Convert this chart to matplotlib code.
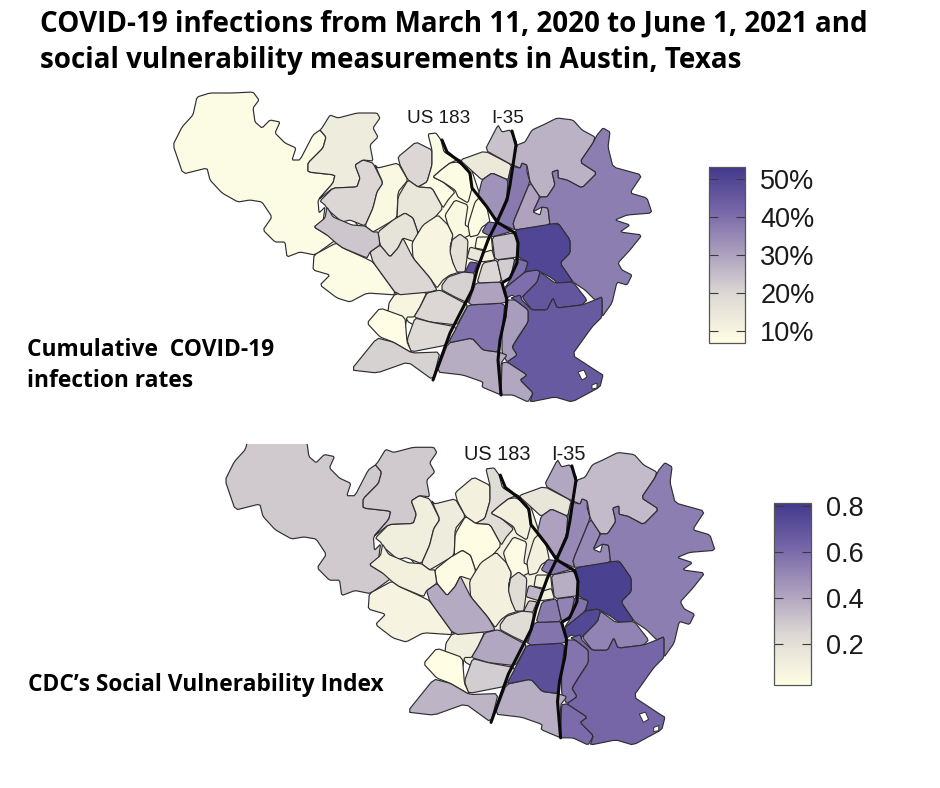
import matplotlib
matplotlib.use('Agg')
import matplotlib.pyplot as plt
from matplotlib.cm import ScalarMappable
from matplotlib.colors import LinearSegmentedColormap, Normalize
from matplotlib.patches import Polygon

# ZIP code outlines, in map units
zip_outlines = [
    # filler under the pale middle
    [(335,195),(440,150),(470,165),(490,225),(498,300),(440,340),(405,320),(385,262)],
    [(197,97),(210,93),(232,93),(253,92),(259,100),(253,108),(255,122),(262,128),(270,120),(280,122),(275,133),(285,143),(296,148),(292,160),(300,160),(313,135),(320,130),(326,137),(323,148),(308,163),(308,172),(335,175),(333,183),(318,200),(319,213),(325,207),(323,222),(314,227),(327,235),(337,239),(315,255),(300,252),(287,257),(285,242),(275,242),(263,230),(272,217),(262,202),(250,200),(238,202),(222,193),(210,180),(207,168),(183,174),(173,145),(182,127),(193,115)],
    [(322,128),(330,115),(338,118),(357,113),(377,113),(380,118),(373,128),(378,137),(370,145),(373,161),(363,160),(355,165),(360,178),(357,187),(333,188),(318,200),(333,183),(335,175),(308,172),(308,163),(323,148),(326,137),(320,130)],
    [(320,201),(333,188),(357,187),(360,178),(355,165),(363,160),(373,163),(383,183),(377,192),(373,208),(365,226),(350,220),(342,222),(328,210),(325,205)],
    [(375,165),(378,168),(398,163),(408,180),(398,192),(397,218),(380,228),(373,232),(365,226),(373,208),(377,192),(383,183)],
    [(398,157),(416,142),(432,150),(432,165),(427,182),(418,187),(408,180),(400,165)],
    [(428,134),(436,133),(441,140),(444,152),(457,160),(450,163),(441,170),(433,177),(443,182),(455,192),(448,200),(443,208),(432,188),(418,187),(427,182),(432,165),(432,150)],
    [(433,177),(441,170),(450,163),(457,162),(468,168),(472,188),(468,203),(458,197),(455,190),(443,182)],
    [(398,197),(408,180),(418,187),(432,188),(443,208),(430,223),(418,233),(413,218),(405,213),(397,218)],
    [(378,232),(393,220),(405,213),(413,218),(418,233),(415,242),(403,238),(398,248),(390,257),(380,245)],
    [(412,243),(423,225),(438,215),(448,225),(453,235),(450,248),(453,263),(460,272),(450,275),(443,280),(437,288),(430,278),(413,258)],
    [(445,215),(455,200),(468,205),(465,225),(470,228),(470,235),(460,240),(450,248),(453,235),(448,225)],
    [(450,252),(452,240),(460,234),(468,240),(467,258),(465,272),(457,272),(453,263)],
    [(468,225),(475,202),(480,197),(487,208),(490,222),(482,227),(478,235),(470,237)],
    [(460,160),(485,151),(512,165),(508,180),(492,173),(482,180),(471,170)],
    [(485,150),(498,125),(502,132),(510,130),(517,143),(513,163),(512,165)],
    [(478,197),(482,180),(492,173),(508,180),(507,197),(497,220),(487,208)],
    [(511,166),(520,168),(522,163),(527,165),(527,172),(530,182),(513,223),(515,230),(497,222),(507,197),(508,180)],
    [(482,232),(488,222),(497,223),(513,231),(492,237)],
    [(530,182),(540,197),(533,212),(540,215),(542,207),(548,208),(550,225),(515,230),(513,223)],
    [(517,145),(525,142),(532,130),(543,125),(557,118),(573,120),(582,130),(595,137),(593,143),(580,162),(597,173),(582,188),(567,180),(558,178),(558,170),(552,172),(555,185),(547,197),(540,197),(530,182),(527,165),(522,163),(520,168),(513,165)],
    [(593,143),(597,135),(603,128),(610,132),(608,147),(613,167),(642,175),(630,193),(647,198),(652,213),(627,215),(615,220),(630,225),(620,232),(642,235),(630,250),(618,263),(622,270),(632,275),(627,285),(617,282),(612,303),(602,317),(602,297),(595,300),(585,290),(573,282),(560,263),(570,253),(570,240),(558,223),(550,225),(548,208),(542,207),(533,212),(540,197),(547,197),(555,185),(552,172),(558,170),(558,178),(567,180),(582,188),(597,173),(580,162)],
    [(515,230),(558,223),(570,240),(570,253),(560,263),(573,282),(558,283),(550,277),(537,270),(525,272),(528,262),(518,257),(518,240)],
    [(522,297),(537,282),(540,272),(555,283),(573,282),(587,300),(582,305),(557,308),(553,298),(547,310),(532,310)],
    [(505,288),(525,272),(537,270),(540,272),(537,282),(522,297),(520,300),(512,295),(507,298)],
    [(515,258),(528,262),(525,272),(505,288),(510,280)],
    [(511,298),(520,295),(522,300),(532,310),(547,310),(553,298),(557,308),(582,305),(595,300),(602,297),(602,317),(592,327),(572,355),(598,372),(603,375),(600,387),(572,402),(555,397),(530,402),(533,393),(520,380),(527,375),(507,362),(517,355),(512,347),(528,322),(528,310),(515,300)],
    [(507,300),(515,300),(528,310),(528,322),(518,337),(512,347),(517,355),(507,362),(502,352),(502,330),(506,317)],
    [(502,363),(507,362),(527,375),(520,380),(533,393),(528,402),(513,395),(501,395)],
    [(448,343),(472,338),(483,350),(498,352),(507,355),(501,363),(501,395),(482,387),(483,382),(463,375),(437,372)],
    [(468,305),(505,303),(502,330),(498,352),(483,350),(472,338),(448,343),(462,317)],
    [(475,283),(502,282),(507,297),(505,303),(468,305)],
    [(477,283),(483,263),(497,260),(502,282)],
    [(497,260),(515,258),(510,280),(502,282)],
    [(465,272),(470,262),(478,263),(473,275)],
    [(492,237),(513,233),(518,240),(518,257),(495,260)],
    [(477,237),(490,237),(485,250),(475,248)],
    [(470,247),(484,251),(480,262),(467,258)],
    [(482,253),(492,250),(495,260),(481,262)],
    [(442,285),(448,277),(463,272),(474,273),(475,285),(468,303),(455,297),(442,290)],
    [(389,303),(395,294),(427,292),(420,307),(414,317),(407,317),(405,328),(388,312)],
    [(427,293),(440,290),(455,298),(468,305),(457,325),(430,322),(414,317),(420,307)],
    [(407,340),(415,318),(430,322),(457,327),(447,345),(411,352)],
    [(367,323),(380,308),(405,317),(407,342),(412,353),(393,342),(380,337)],
    [(351,370),(377,338),(393,342),(412,353),(440,352),(433,380),(408,362),(377,373)],
    [(314,255),(336,243),(343,248),(363,257),(373,262),(397,295),(367,293),(350,302),(337,298),(320,285),(330,275),(313,270)],
    [(370,252),(380,245),(390,257),(398,248),(403,238),(413,258),(430,278),(437,290),(430,292),(397,295),(373,262)],
    [(314,227),(325,218),(327,207),(333,217),(345,222),(352,225),(365,226),(373,232),(378,232),(380,245),(370,252),(367,258),(343,248),(336,243),(327,235)],
]

# Values read per outline, same order as zip_outlines
infection_rates = [8, 8, 13, 20, 9, 20, 8, 8, 15, 16, 10, 9, 17, 8, 14, 24, 33, 38, 40, 30, 27, 37,
                   50, 46, 40, 40, 45, 31, 29, 28, 39, 30, 20, 22, 47, 24, 8, 15, 11, 21, 10, 20,
                   19, 7, 21, 8, 20, 23]
svi_values = [0.1, 0.29, 0.29, 0.12, 0.13, 0.1, 0.22, 0.1, 0.03, 0.04, 0.1, 0.04, 0.22, 0.1, 0.17,
              0.4, 0.42, 0.5, 0.55, 0.5, 0.34, 0.54, 0.78, 0.52, 0.75, 0.57, 0.62, 0.57, 0.6, 0.38,
              0.72, 0.57, 0.55, 0.52, 0.3, 0.38, 0.1, 0.35, 0.1, 0.22, 0.12, 0.4, 0.28, 0.02, 0.36,
              0.08, 0.39, 0.1]

# Small holes in the south east
hole_outlines = [
    [(578,372),(584,370),(587,377),(582,380)],
    [(592,385),(597,383),(597,388),(592,389)],
]

# Highways
us183_route = [(442,140),(447,152),(460,162),(470,173),(472,188),(487,207),(497,222),(515,233),(518,243),(517,263),(510,278),(502,283),(507,300),(505,317),(500,340),(498,360),(501,395)]
i35_route = [(512,131),(516,145),(513,165),(510,185),(507,200),(497,222),(488,240),(477,270),(472,290),(450,333),(433,380)]

infection_ticks = [10, 20, 30, 40, 50]
infection_labels = ['10%', '20%', '30%', '40%', '50%']
svi_ticks = [0.2, 0.4, 0.6, 0.8]
svi_labels = ['0.2', '0.4', '0.6', '0.8']

cmap = LinearSegmentedColormap.from_list('yellow_purple', [
    (0.0, '#fffee4'), (0.28, '#dcd8d4'), (0.52, '#a99dbd'), (0.76, '#7565a8'), (1.0, '#433a8d')])

W, H = 940, 788
fig = plt.figure(figsize=(W / 100, H / 100), dpi=100)
bg = fig.add_axes([0, 0, 1, 1])
bg.set_xlim(0, W)
bg.set_ylim(H, 0)
bg.axis('off')


# Corta os cantos para as fronteiras ficarem menos angulosas
def soften(outline, cut=0.1):
    out = []
    for i, (x0, y0) in enumerate(outline):
        x1, y1 = outline[(i + 1) % len(outline)]
        out.append((x0 + (x1 - x0) * cut, y0 + (y1 - y0) * cut))
        out.append((x1 - (x1 - x0) * cut, y1 - (y1 - y0) * cut))
    return out


def draw_map(ax, values, norm):
    for outline, value in zip(zip_outlines, values):
        ax.add_patch(Polygon(soften(outline), closed=True, facecolor=cmap(norm(value)),
                             edgecolor='#2f2f33', linewidth=0.85, joinstyle='round'))
    for outline in hole_outlines:
        ax.add_patch(Polygon(outline, closed=True, facecolor='white', edgecolor='#2f2f33', linewidth=0.7))
    for route in [us183_route, i35_route]:
        ax.plot([p[0] for p in route], [p[1] for p in route], color='#0a0a0a', linewidth=2.2,
                solid_capstyle='round', solid_joinstyle='round')
    ax.axis('off')


def draw_bar(rect, norm, ticks, labels):
    cax = fig.add_axes([rect[0] / W, 1 - rect[3] / H, (rect[2] - rect[0]) / W, (rect[3] - rect[1]) / H])
    cbar = fig.colorbar(ScalarMappable(norm=norm, cmap=cmap), cax=cax)
    cbar.set_ticks(ticks, labels=labels)
    cbar.minorticks_off()
    cax.tick_params(axis='y', direction='in', left=True, right=True, length=6.5, width=0.8,
                    color='#3a3a3a', labelsize=19.5, labelcolor='#1a1a1a', pad=11)
    for label in cax.get_yticklabels():
        label.set_family('Liberation Sans')
    cbar.outline.set_edgecolor('#555555')
    cbar.outline.set_linewidth(0.9)


norm_top = Normalize(6.8, 53.2)
norm_bottom = Normalize(0.022, 0.813)

# Mapa de cima, unidades iguais aos pixels
ax1 = fig.add_axes([0, 0, 1, 1])
ax1.set_xlim(0, W)
ax1.set_ylim(H, 0)
draw_map(ax1, infection_rates, norm_top)

# Mapa de baixo, um pouco maior e cortado em cima
ax2 = fig.add_axes([0, 0, 1, (H - 444) / H])
ax2.set_xlim(-47, 871.9)
ax2.set_ylim(443.7, 109.8)
draw_map(ax2, svi_values, norm_bottom)

draw_bar((709, 167, 745, 343), norm_top, infection_ticks, infection_labels)
draw_bar((774, 503, 811, 685), norm_bottom, svi_ticks, svi_labels)

# Textos
title_font = dict(family='Open Sans', weight='bold', color='black', va='center')
bg.text(40, 24, 'COVID-19 infections from March 11, 2020 to June 1, 2021 and', fontsize=20, **title_font)
bg.text(40, 60, 'social vulnerability measurements in Austin, Texas', fontsize=20, **title_font)
bg.text(27, 350, 'Cumulative  COVID-19', fontsize=16.4, **title_font)
bg.text(27, 381, 'infection rates', fontsize=16.4, **title_font)
bg.text(28, 685, 'CDC\u2019s Social Vulnerability Index', fontsize=16.4, **title_font)

road_font = dict(family='Liberation Sans', color='#1a1a1a', va='center', zorder=5)
ax1.text(407, 118, 'US 183', fontsize=13.6, **road_font)
ax1.text(491, 118, 'I-35', fontsize=13.6, **road_font)
bg.text(464, 454, 'US 183', fontsize=14.4, **road_font)
bg.text(551, 454, 'I-35', fontsize=14.4, **road_font)

fig.savefig('out.png', dpi=100, facecolor='white')
